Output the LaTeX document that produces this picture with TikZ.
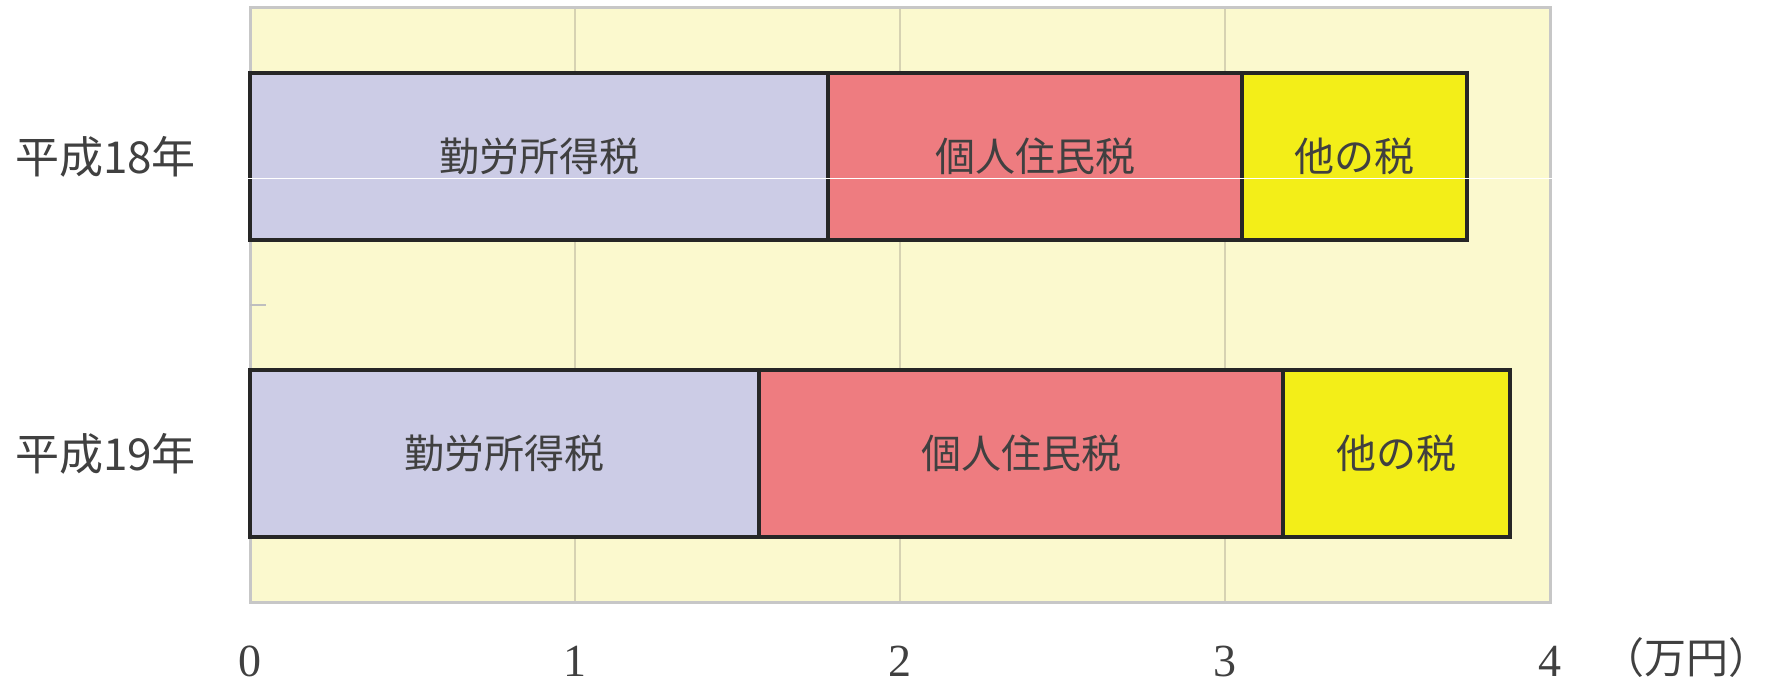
\documentclass[tikz,border=0pt]{standalone}
\usepackage{fontspec}
\setmainfont{Liberation Serif}
\newfontfamily\cjk{Noto Sans CJK JP}
\usepackage{tikz}
\definecolor{plotbg}{RGB}{251,249,206}
\definecolor{gridc}{RGB}{214,210,178}
\definecolor{kinro}{RGB}{204,204,230}
\definecolor{jumin}{RGB}{238,124,128}
\definecolor{hoka}{RGB}{243,238,24}

\begin{document}
\begin{tikzpicture}[x=0.5pt,y=-0.5pt,
    seg/.style={draw=black!85,line width=1.6pt},
    bartext/.style={font=\cjk\fontsize{20}{24}\selectfont,text=black!75},
    yearlabel/.style={font=\cjk\fontsize{22}{26}\selectfont,text=black!75,anchor=east},
    ticklabel/.style={font=\fontsize{23}{27}\selectfont,text=black!75,inner sep=0pt}]
        \useasboundingbox (0,0) rectangle (1773,689);
        \fill[plotbg] (250,8) rectangle (1550,602);
        \foreach \k in {1,2,3}
          \draw[gridc,line width=1.2pt] (250+325*\k,8) -- (250+325*\k,602);
        \draw[black!22,line width=1.5pt] (250,8) rectangle (1550,602);
        \draw[black!25,line width=1pt] (250,305) -- (266,305);
        % 平成18年
        \draw[seg,fill=kinro] (250,73) rectangle (828,240);
        \draw[seg,fill=jumin] (828,73) rectangle (1242,240);
        \draw[seg,fill=hoka] (1242,73) rectangle (1467,240);
        \node[bartext] (k18) at (539,156.5) {勤労所得税};
        \node[bartext] (j18) at (1035,156.5) {個人住民税};
        \node[bartext] (h18) at (1354.5,156.5) {他の税};
        \node[yearlabel] (y18) at (203,156.5) {平成18年};
        % 平成19年
        \draw[seg,fill=kinro] (250,370) rectangle (759,537);
        \draw[seg,fill=jumin] (759,370) rectangle (1283,537);
        \draw[seg,fill=hoka] (1283,370) rectangle (1510,537);
        \node[bartext] (k19) at (504.5,453.5) {勤労所得税};
        \node[bartext] (j19) at (1021,453.5) {個人住民税};
        \node[bartext] (h19) at (1396.5,453.5) {他の税};
        \node[yearlabel] (y19) at (203,453.5) {平成19年};
        \draw[white,line width=0.5pt] (0,179) -- (1553,179);
        \foreach \v in {0,...,4}
          \node[ticklabel] (t\v) at (250+325*\v,661) {\v};
        \node[ticklabel,font=\cjk\fontsize{21}{25}\selectfont] (unit) at (1686,658) {（万円）};
      \end{tikzpicture}
\end{document}
